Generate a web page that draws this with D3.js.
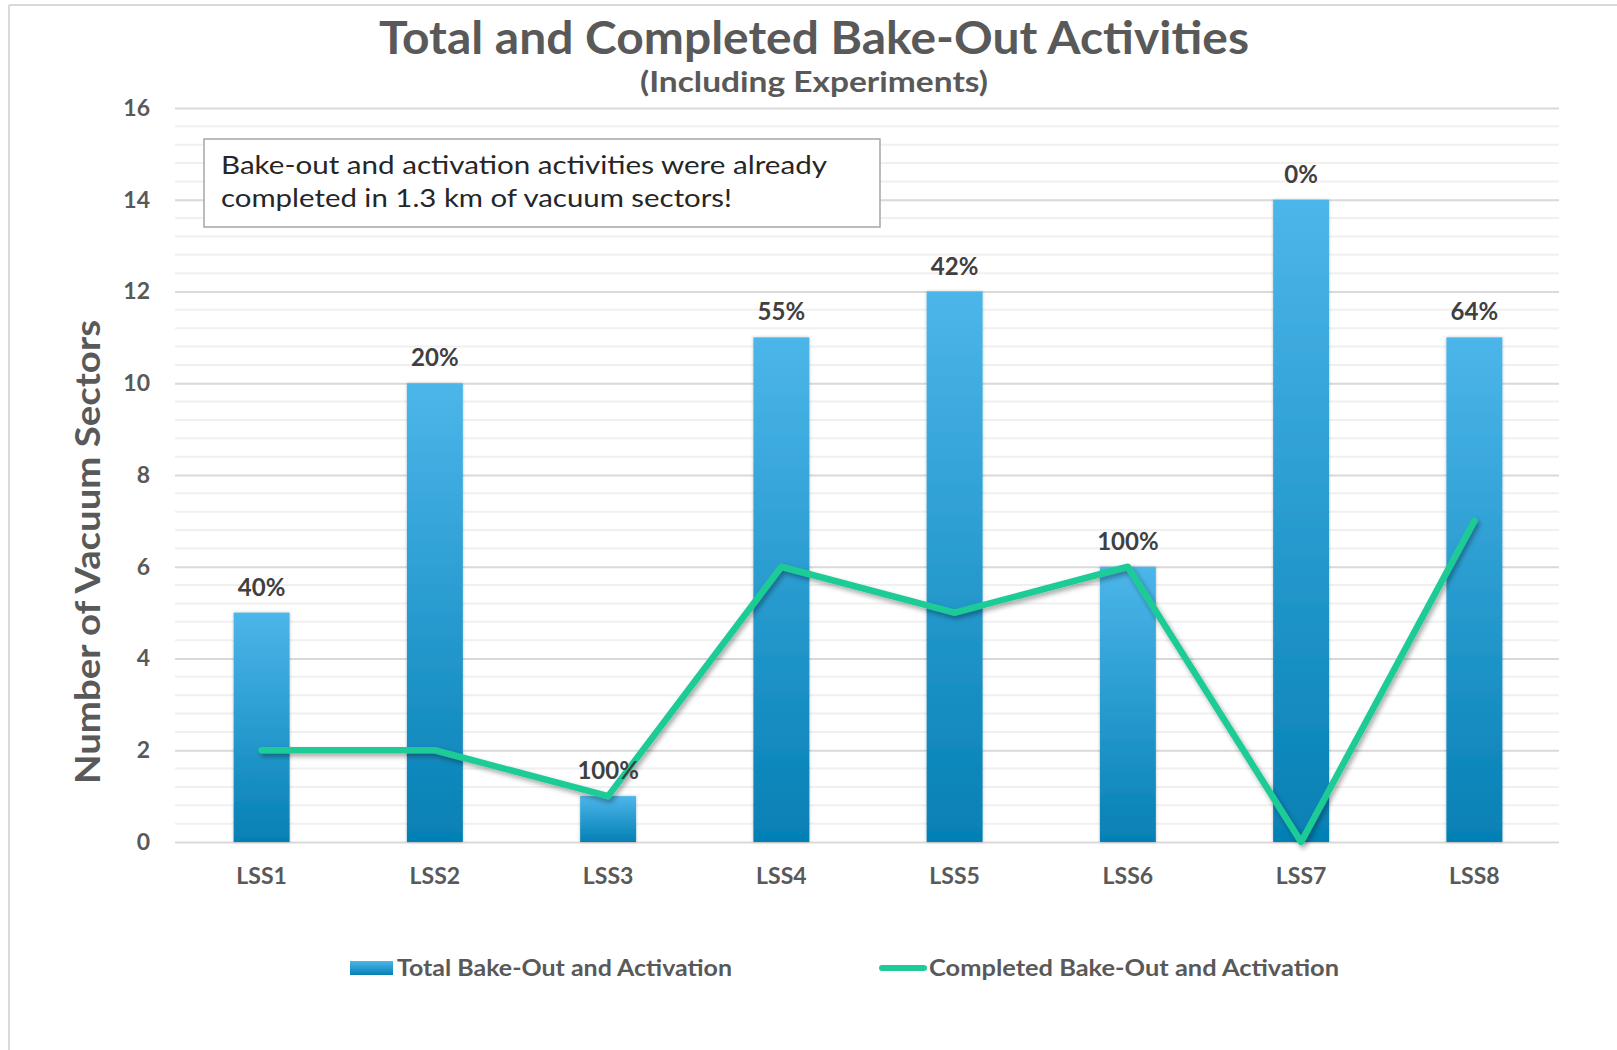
<!DOCTYPE html>
<html>
<head>
<meta charset="utf-8">
<script src="https://cdn.jsdelivr.net/npm/d3@7"></script>
<style>
  body { margin: 0; background: #fff; }
  svg { display: block; }
</style>
</head>
<body>
<script>
// chart data
let categories = ['LSS1', 'LSS2', 'LSS3', 'LSS4', 'LSS5', 'LSS6', 'LSS7', 'LSS8'];
let totalSectors = [5, 10, 1, 11, 12, 6, 14, 11];
let completedSectors = [2, 2, 1, 6, 5, 6, 0, 7];
let percentLabels = ['40%', '20%', '100%', '55%', '42%', '100%', '0%', '64%'];
let yTicks = [0, 2, 4, 6, 8, 10, 12, 14, 16];

let w = 1617, h = 1050;
let plotLeft = 175, plotRight = 1561, plotTop = 108, plotBottom = 842; // plot area

let svg = d3.select('body').append('svg')
  .attr('width', w)
  .attr('height', h);

let defs = svg.append('defs');

let grad = defs.append('linearGradient')
  .attr('id', 'barGrad')
  .attr('x1', 0).attr('y1', 0).attr('x2', 0).attr('y2', 1);
grad.append('stop').attr('offset', '0%').attr('stop-color', '#4cb6ea');
grad.append('stop').attr('offset', '100%').attr('stop-color', '#0580b4');

let shadow = defs.append('filter').attr('id', 'lineShadow')
  .attr('x', '-10%').attr('y', '-10%').attr('width', '120%').attr('height', '130%');
shadow.append('feDropShadow')
  .attr('dx', 2).attr('dy', 3).attr('stdDeviation', 2.5)
  .attr('flood-color', '#000').attr('flood-opacity', 0.35);

let barShadow = defs.append('filter').attr('id', 'barShadow')
  .attr('x', '-20%').attr('y', '-5%').attr('width', '140%').attr('height', '110%');
barShadow.append('feDropShadow')
  .attr('dx', 0).attr('dy', 0).attr('stdDeviation', 1.5)
  .attr('flood-color', '#000').attr('flood-opacity', 0.25);

// frame edges
svg.append('line').attr('x1', 9).attr('x2', w).attr('y1', 5).attr('y2', 5)
  .attr('stroke', '#d9d9d9').attr('stroke-width', 2);
svg.append('line').attr('x1', 9).attr('x2', 9).attr('y1', 5).attr('y2', h)
  .attr('stroke', '#d9d9d9').attr('stroke-width', 2);

// scales
let xScale = d3.scaleBand()
  .domain(categories)
  .range([plotLeft, plotRight])
  .paddingInner(0.677)
  .paddingOuter(0.3385);

let yScale = d3.scaleLinear()
  .domain([0, 16])
  .range([plotBottom, plotTop]);

// minor gridlines
svg.append('g')
  .selectAll('line')
  .data(d3.range(0.4, 16, 0.4).filter(v => Math.abs(v / 2 - Math.round(v / 2)) > 0.01))
  .enter()
  .append('line')
  .attr('x1', plotLeft).attr('x2', plotRight - 2)
  .attr('y1', d => yScale(d)).attr('y2', d => yScale(d))
  .attr('stroke', '#f0f0f0').attr('stroke-width', 2);

// y axis with major gridlines
let yAxis = d3.axisLeft(yScale)
  .tickValues(yTicks)
  .tickSize(-(plotRight - 2 - plotLeft))
  .tickPadding(25);

let yG = svg.append('g')
  .attr('transform', 'translate(' + plotLeft + ',0)')
  .call(yAxis);
yG.select('.domain').remove();
yG.selectAll('.tick line').attr('stroke', '#d9d9d9').attr('stroke-width', 2);
yG.selectAll('.tick text')
  .attr('fill', '#595959')
  .style('font-family', 'Lato, sans-serif')
  .style('font-weight', 'bold')
  .style('font-size', '23px');

// x axis labels
let xAxis = d3.axisBottom(xScale).tickSize(0).tickPadding(26);
let xG = svg.append('g')
  .attr('transform', 'translate(0,' + plotBottom + ')')
  .call(xAxis);
xG.select('.domain').remove();
xG.selectAll('.tick text')
  .attr('fill', '#595959')
  .style('font-family', 'Lato, sans-serif')
  .style('font-weight', 'bold')
  .style('font-size', '23px');

// bars
svg.append('g')
  .selectAll('rect')
  .data(totalSectors)
  .enter()
  .append('rect')
  .attr('x', (d, i) => xScale(categories[i]))
  .attr('y', d => yScale(d))
  .attr('width', xScale.bandwidth())
  .attr('height', d => yScale(0) - yScale(d))
  .attr('fill', 'url(#barGrad)')
  .attr('filter', 'url(#barShadow)');

// completed line
let line = d3.line()
  .x((d, i) => xScale(categories[i]) + xScale.bandwidth() / 2)
  .y(d => yScale(d));

svg.append('path')
  .datum(completedSectors)
  .attr('d', line)
  .attr('fill', 'none')
  .attr('stroke', '#1ecb96')
  .attr('stroke-width', 6.5)
  .attr('stroke-linejoin', 'round')
  .attr('stroke-linecap', 'round')
  .attr('filter', 'url(#lineShadow)');

// percentage labels
svg.append('g')
  .selectAll('text')
  .data(percentLabels)
  .enter()
  .append('text')
  .attr('x', (d, i) => xScale(categories[i]) + xScale.bandwidth() / 2)
  .attr('y', (d, i) => yScale(totalSectors[i]) - 17)
  .attr('text-anchor', 'middle')
  .attr('fill', '#404040')
  .style('font-family', 'Lato, sans-serif')
  .style('font-weight', 'bold')
  .style('font-size', '24px')
  .text(d => d);

// titles
svg.append('text')
  .attr('x', 814).attr('y', 54)
  .attr('text-anchor', 'middle')
  .attr('fill', '#595959')
  .attr('textLength', 870).attr('lengthAdjust', 'spacingAndGlyphs')
  .style('font-family', 'Lato, sans-serif')
  .style('font-weight', 'bold')
  .style('font-size', '46px')
  .text('Total and Completed Bake-Out Activities');

svg.append('text')
  .attr('x', 814).attr('y', 92)
  .attr('text-anchor', 'middle')
  .attr('fill', '#595959')
  .attr('textLength', 348).attr('lengthAdjust', 'spacingAndGlyphs')
  .style('font-family', 'Lato, sans-serif')
  .style('font-weight', 'bold')
  .style('font-size', '29px')
  .text('(Including Experiments)');

svg.append('text')
  .attr('transform', 'translate(100,' + 552 + ') rotate(-90)')
  .attr('text-anchor', 'middle')
  .attr('fill', '#595959')
  .attr('textLength', 464).attr('lengthAdjust', 'spacingAndGlyphs')
  .style('font-family', 'Lato, sans-serif')
  .style('font-weight', 'bold')
  .style('font-size', '34px')
  .text('Number of Vacuum Sectors');

// annotation box
svg.append('rect')
  .attr('x', 204).attr('y', 139)
  .attr('width', 676).attr('height', 88)
  .attr('fill', '#fff')
  .attr('stroke', '#a6a6a6').attr('stroke-width', 1.5);

let note = svg.append('text')
  .attr('fill', '#262626')
  .style('font-family', 'Lato, sans-serif')
  .style('font-size', '25px');
note.append('tspan').attr('x', 221).attr('y', 174)
  .attr('textLength', 606).attr('lengthAdjust', 'spacingAndGlyphs')
  .text('Bake-out and activation activities were already');
note.append('tspan').attr('x', 221).attr('y', 207)
  .attr('textLength', 511).attr('lengthAdjust', 'spacingAndGlyphs')
  .text('completed in 1.3 km of vacuum sectors!');

// legend
let legend = svg.append('g');
legend.append('rect')
  .attr('x', 350).attr('y', 961).attr('width', 43).attr('height', 14)
  .attr('fill', 'url(#barGrad)');
legend.append('text')
  .attr('x', 397).attr('y', 976)
  .attr('fill', '#595959')
  .attr('textLength', 335).attr('lengthAdjust', 'spacingAndGlyphs')
  .style('font-family', 'Lato, sans-serif')
  .style('font-weight', 'bold')
  .style('font-size', '22px')
  .text('Total Bake-Out and Activation');
legend.append('line')
  .attr('x1', 882).attr('x2', 924).attr('y1', 968).attr('y2', 968)
  .attr('stroke', '#1ecb96').attr('stroke-width', 6)
  .attr('stroke-linecap', 'round');
legend.append('text')
  .attr('x', 929).attr('y', 976)
  .attr('fill', '#595959')
  .attr('textLength', 410).attr('lengthAdjust', 'spacingAndGlyphs')
  .style('font-family', 'Lato, sans-serif')
  .style('font-weight', 'bold')
  .style('font-size', '22px')
  .text('Completed Bake-Out and Activation');
</script>
</body>
</html>
